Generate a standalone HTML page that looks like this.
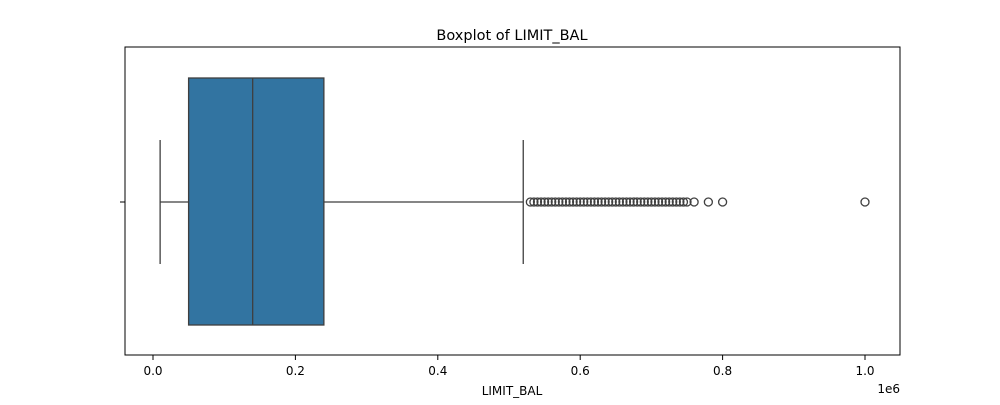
<!DOCTYPE html>
<html><head><meta charset="utf-8"><style>
body{margin:0;background:#fff;}
svg text{font-family:"DejaVu Sans","Liberation Sans",sans-serif;fill:#000;}
</style></head><body>
<svg id="chart" width="1000" height="400" xmlns="http://www.w3.org/2000/svg">
<text x="512" y="40" font-size="14.5" text-anchor="middle">Boxplot of LIMIT_BAL</text>
<rect x="125" y="47" width="775" height="308" fill="none" stroke="#000" stroke-width="1"/>
<line x1="120" y1="202" x2="125" y2="202" stroke="#000"/>
<text x="512" y="395" font-size="12" text-anchor="middle">LIMIT_BAL</text>
<text x="900" y="393" font-size="12" text-anchor="end">1e6</text>
<g id="marks"></g>
</svg>
<script>
const xTicks=[0,0.2,0.4,0.6,0.8,1.0];
const xTickLabels=["0.0","0.2","0.4","0.6","0.8","1.0"];
const stats=[10000,50000,140000,240000,520000]; // whiskerLow,q1,median,q3,whiskerHigh
const outliers=[530000,535000,540000,545000,550000,555000,560000,565000,570000,575000,580000,585000,590000,595000,600000,605000,610000,615000,620000,625000,630000,635000,640000,645000,650000,655000,660000,665000,670000,675000,680000,685000,690000,695000,700000,705000,710000,715000,720000,725000,730000,735000,740000,745000,750000,760000,780000,800000,1000000];
const NS="http://www.w3.org/2000/svg";
const xs=v=>153+(v/1e6)*712;
const g=document.getElementById('marks');
function mk(tag,attrs){const e=document.createElementNS(NS,tag);for(const k in attrs)e.setAttribute(k,attrs[k]);g.appendChild(e);return e;}
xTicks.forEach((t,i)=>{
  const l=mk('line',{x1:xs(t*1e6),x2:xs(t*1e6),y1:355,y2:360,stroke:'#000'});
  
  
  const tx=mk('text',{x:xs(t*1e6),y:375,'font-size':12,'text-anchor':'middle'});
  tx.textContent=xTickLabels[i];
  
  
});
const c='#3f3f3f', yc=202, boxTop=78, boxBot=325;
const w1=mk('line',{x1:xs(stats[0]),x2:xs(stats[1]),y1:yc,y2:yc,stroke:c,'stroke-width':1.3});


const w2=mk('line',{x1:xs(stats[3]),x2:xs(stats[4]),y1:yc,y2:yc,stroke:c,'stroke-width':1.3});


const cap1=mk('line',{x1:xs(stats[0]),x2:xs(stats[0]),y1:140,y2:264,stroke:c,'stroke-width':1.3});


const cap2=mk('line',{x1:xs(stats[4]),x2:xs(stats[4]),y1:140,y2:264,stroke:c,'stroke-width':1.3});


const box=mk('rect',{x:xs(stats[1]),y:boxTop,width:xs(stats[3])-xs(stats[1]),height:boxBot-boxTop,fill:'#3274a1',stroke:c,'stroke-width':1.3});


const med=mk('line',{x1:xs(stats[2]),x2:xs(stats[2]),y1:boxTop,y2:boxBot,stroke:c,'stroke-width':1.3});


outliers.forEach(v=>{
  const o=mk('circle',{cx:xs(v),cy:yc,r:4,fill:'none',stroke:c,'stroke-width':1.3});
  
  
});
</script>
</body></html>
